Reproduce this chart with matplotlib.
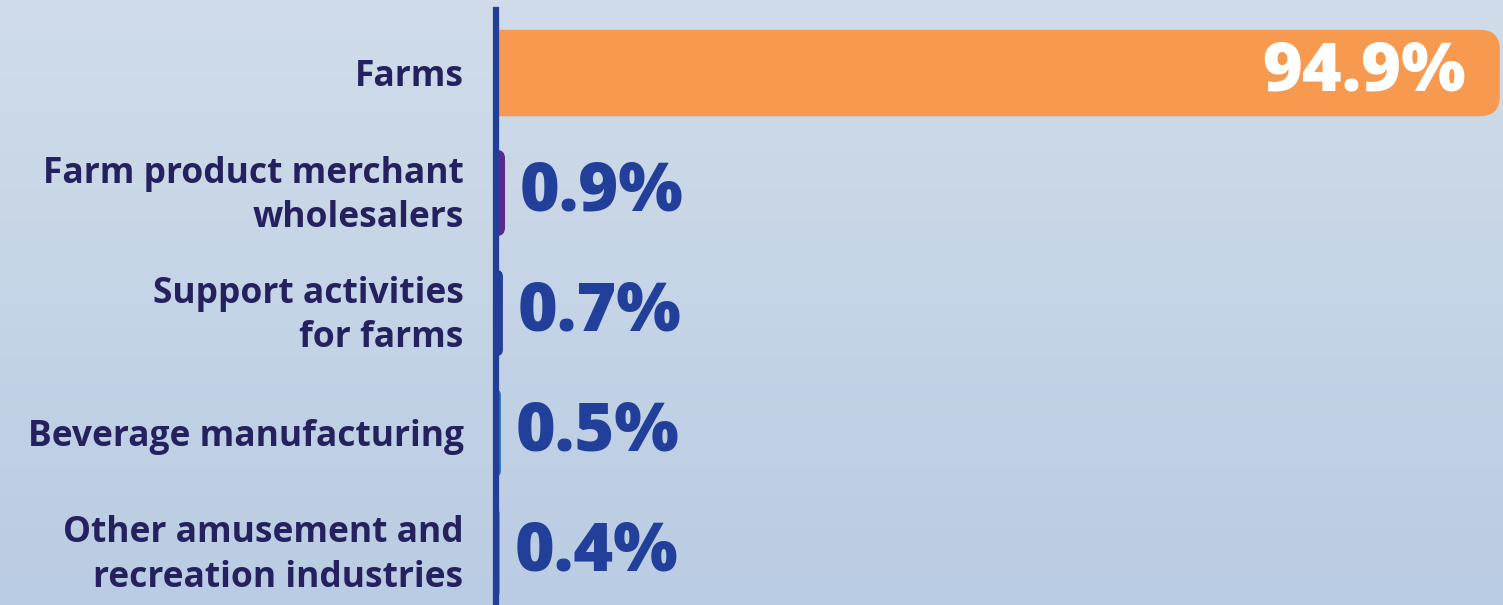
import numpy as np
from matplotlib import pyplot as plt
from matplotlib.patches import FancyBboxPatch
from matplotlib.colors import LinearSegmentedColormap
from matplotlib.transforms import ScaledTranslation

# data
industries = ['Farms', 'Farm product merchant\nwholesalers', 'Support activities\nfor farms',
              'Beverage manufacturing', 'Other amusement and\nrecreation industries']
shares = [94.9, 0.9, 0.7, 0.5, 0.4]
bar_colors = ['#f7994f', '#5a2b8c', '#243f98', '#1a6fb8', '#2f8dc6']

W, H = 1503, 605
fig = plt.figure(figsize=(W / 100, H / 100), dpi=100)

# background gradient
bg = fig.add_axes([0, 0, 1, 1], zorder=-1)
grad = np.linspace(0, 1, 256).reshape(-1, 1)
cmap = LinearSegmentedColormap.from_list('bg', ['#d0dce9', '#bacce3'])
bg.imshow(grad, aspect='auto', cmap=cmap, extent=[0, 1, 0, 1], origin='upper')
bg.axis('off')

left_px = 495.5
top_px = 10
ax = fig.add_axes([left_px / W, 0, 1 - left_px / W, 1 - top_px / H])
ax.set_facecolor('none')

y = np.arange(len(industries))
bars = ax.barh(y, shares, height=0.72, color='none')
ax.set_xlim(0, 95.2)
ax.set_ylim(4 + (605 - 553) / 120, -(73 - 10) / 120)

# pixel sizes for rounding
px_x = (95.2 - 0) / (W - left_px)
px_y = (ax.get_ylim()[0] - ax.get_ylim()[1]) / (H - top_px)
aspect = px_y / px_x
radius = 20 * px_x

for b, c in zip(bars, bar_colors):
    x0, y0, w, h = b.get_x(), b.get_y(), b.get_width(), b.get_height()
    r = min(radius, w * 0.9)
    patch = FancyBboxPatch((x0 - r, y0), w + r, h,
                           boxstyle=f'round,pad=0,rounding_size={r}',
                           mutation_aspect=aspect, facecolor=c, edgecolor='none',
                           clip_on=True, zorder=1)
    ax.add_patch(patch)

for i, v in enumerate(shares):
    if i == 0:
        ax.annotate(f'{v}%', (v, i), xytext=(-34, 0), textcoords='offset pixels',
                    ha='right', va='center', color='white', fontsize=49,
                    fontweight=800, family='Open Sans')
    else:
        ax.annotate(f'{v}%', (v, i), xytext=(15, 0), textcoords='offset pixels',
                    ha='left', va='center', color='#22409a', fontsize=49,
                    fontweight=800, family='Open Sans')

ax.set_yticks(y)
ax.set_yticklabels(industries, fontsize=25.5, fontweight='bold', family='Open Sans',
                   color='#25215e', linespacing=1.3)
ax.tick_params(axis='y', length=0, pad=23)
# two-line labels sit a bit high in the original
for lab in ax.get_yticklabels():
    if '\n' in lab.get_text():
        lab.set_transform(lab.get_transform() + ScaledTranslation(0, 6 / 100, fig.dpi_scale_trans))
ax.set_xticks([])
for s in ['top', 'right', 'bottom']:
    ax.spines[s].set_visible(False)
ax.spines['left'].set_linewidth(4.5)
ax.spines['left'].set_color('#233e96')
ax.spines['left'].set_zorder(3)

fig.savefig('out.png', dpi=100)
